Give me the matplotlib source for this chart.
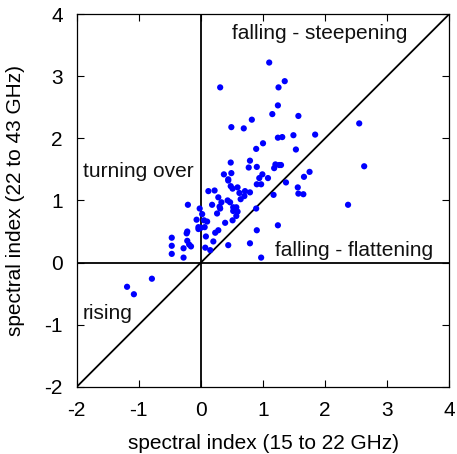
import matplotlib
matplotlib.use("Agg")
import matplotlib.pyplot as plt

plt.rcParams['font.family'] = ['Liberation Sans', 'DejaVu Sans']

alpha_15_22 = [1.10, 0.31, 1.25, 1.35, 1.24, 1.15, 1.57, 0.82, 0.49, 0.69,
               2.55, 1.84, 1.49, 1.24, 1.31, 1.00, 0.89, 1.53, 0.48, 0.79,
               0.90, 0.77, 1.20, 1.26, 1.29, 1.18, 2.63, 1.75, 1.66, 1.37,
               0.49, 0.37, 0.44, 0.44, 0.99, 1.08, 0.94, 0.90, 0.97, 0.48,
               0.51, 0.59, 0.62, 0.71, 0.70, 0.79, 0.64, 0.12, 0.22, 0.28,
               0.33, 0.43, 0.47, 0.18, -0.21, -0.02, 0.30, 0.31, 0.52, 0.57,
               0.59, 0.52, 0.26, 0.02, 0.57, -0.07, 0.51, 0.39, 0.10, 0.05,
               -0.04, 0.00, 0.06, -0.04, 0.89, 1.17, 1.56, 1.57, 1.65, 2.37,
               1.24, 0.90, 0.79, 0.97, 0.44, 0.28, 0.23, 0.20, 0.08, 0.07,
               0.15, -0.22, -0.23, -0.22, -0.19, -0.16, -0.28, -0.28, -0.47, -0.47,
               -0.47, -0.79, -1.19, -1.08]
alpha_22_43 = [3.22, 2.82, 2.82, 2.92, 2.53, 2.39, 2.36, 2.30, 2.18, 2.16,
               2.24, 2.06, 2.05, 2.01, 2.02, 1.92, 1.83, 1.82, 1.61, 1.64,
               1.54, 1.53, 1.58, 1.57, 1.57, 1.52, 1.55, 1.46, 1.38, 1.29,
               1.44, 1.42, 1.34, 1.32, 1.42, 1.36, 1.36, 1.26, 1.26, 1.23,
               1.19, 1.21, 1.12, 1.15, 1.07, 1.13, 1.02, 1.15, 1.16, 1.05,
               0.97, 1.00, 0.97, 0.93, 0.93, 0.87, 0.90, 0.87, 0.89, 0.89,
               0.82, 0.83, 0.79, 0.78, 0.75, 0.69, 0.68, 0.64, 0.66, 0.68,
               0.57, 0.56, 0.57, 0.54, 0.87, 1.09, 1.21, 1.11, 1.10, 0.93,
               0.60, 0.52, 0.31, 0.08, 0.28, 0.52, 0.48, 0.34, 0.42, 0.24,
               0.20, 0.50, 0.47, 0.35, 0.29, 0.26, 0.23, 0.08, 0.40, 0.27,
               0.14, -0.26, -0.39, -0.51]

ticks = [-2, -1, 0, 1, 2, 3, 4]
region_labels = ["falling - steepening", "turning over", "falling - flattening", "rising"]
region_pos = [(0.50, 3.69), (-1.90, 1.47), (1.20, 0.19), (-1.90, -0.82)]

fig = plt.figure(figsize=(4.57, 4.54), dpi=100)
ax = fig.add_axes([0.168, 0.148, 0.815, 0.821])

ax.axhline(0, color='black', lw=1.3, zorder=1)
ax.axvline(0, color='black', lw=1.3, zorder=1)
ax.plot([-2, 4], [-2, 4], color='black', lw=1.3, zorder=1)

ax.scatter(alpha_15_22, alpha_22_43, s=20, color='#0000ff', edgecolors='none', zorder=3)

for lab, (tx, ty) in zip(region_labels, region_pos):
    ax.text(tx, ty, lab, fontsize=15, ha='left', va='center', color='#111111')

ax.set_xlim(-2, 4)
ax.set_ylim(-2, 4)
ax.set_xticks(ticks)
ax.set_yticks(ticks)
ax.set_xticklabels([str(t) for t in ticks])
ax.set_yticklabels([str(t) for t in ticks])
ax.tick_params(direction='in', top=True, right=True, length=5, width=0.8, labelsize=15)
ax.tick_params(axis='x', pad=10)
ax.tick_params(axis='y', pad=10)
for sp in ax.spines.values():
    sp.set_linewidth(0.9)

ax.set_xlabel("spectral index (15 to 22 GHz)", fontsize=15, labelpad=10)
ax.set_ylabel("spectral index (22 to 43 GHz)", fontsize=15, labelpad=14)

fig.savefig("out.png", dpi=100)
